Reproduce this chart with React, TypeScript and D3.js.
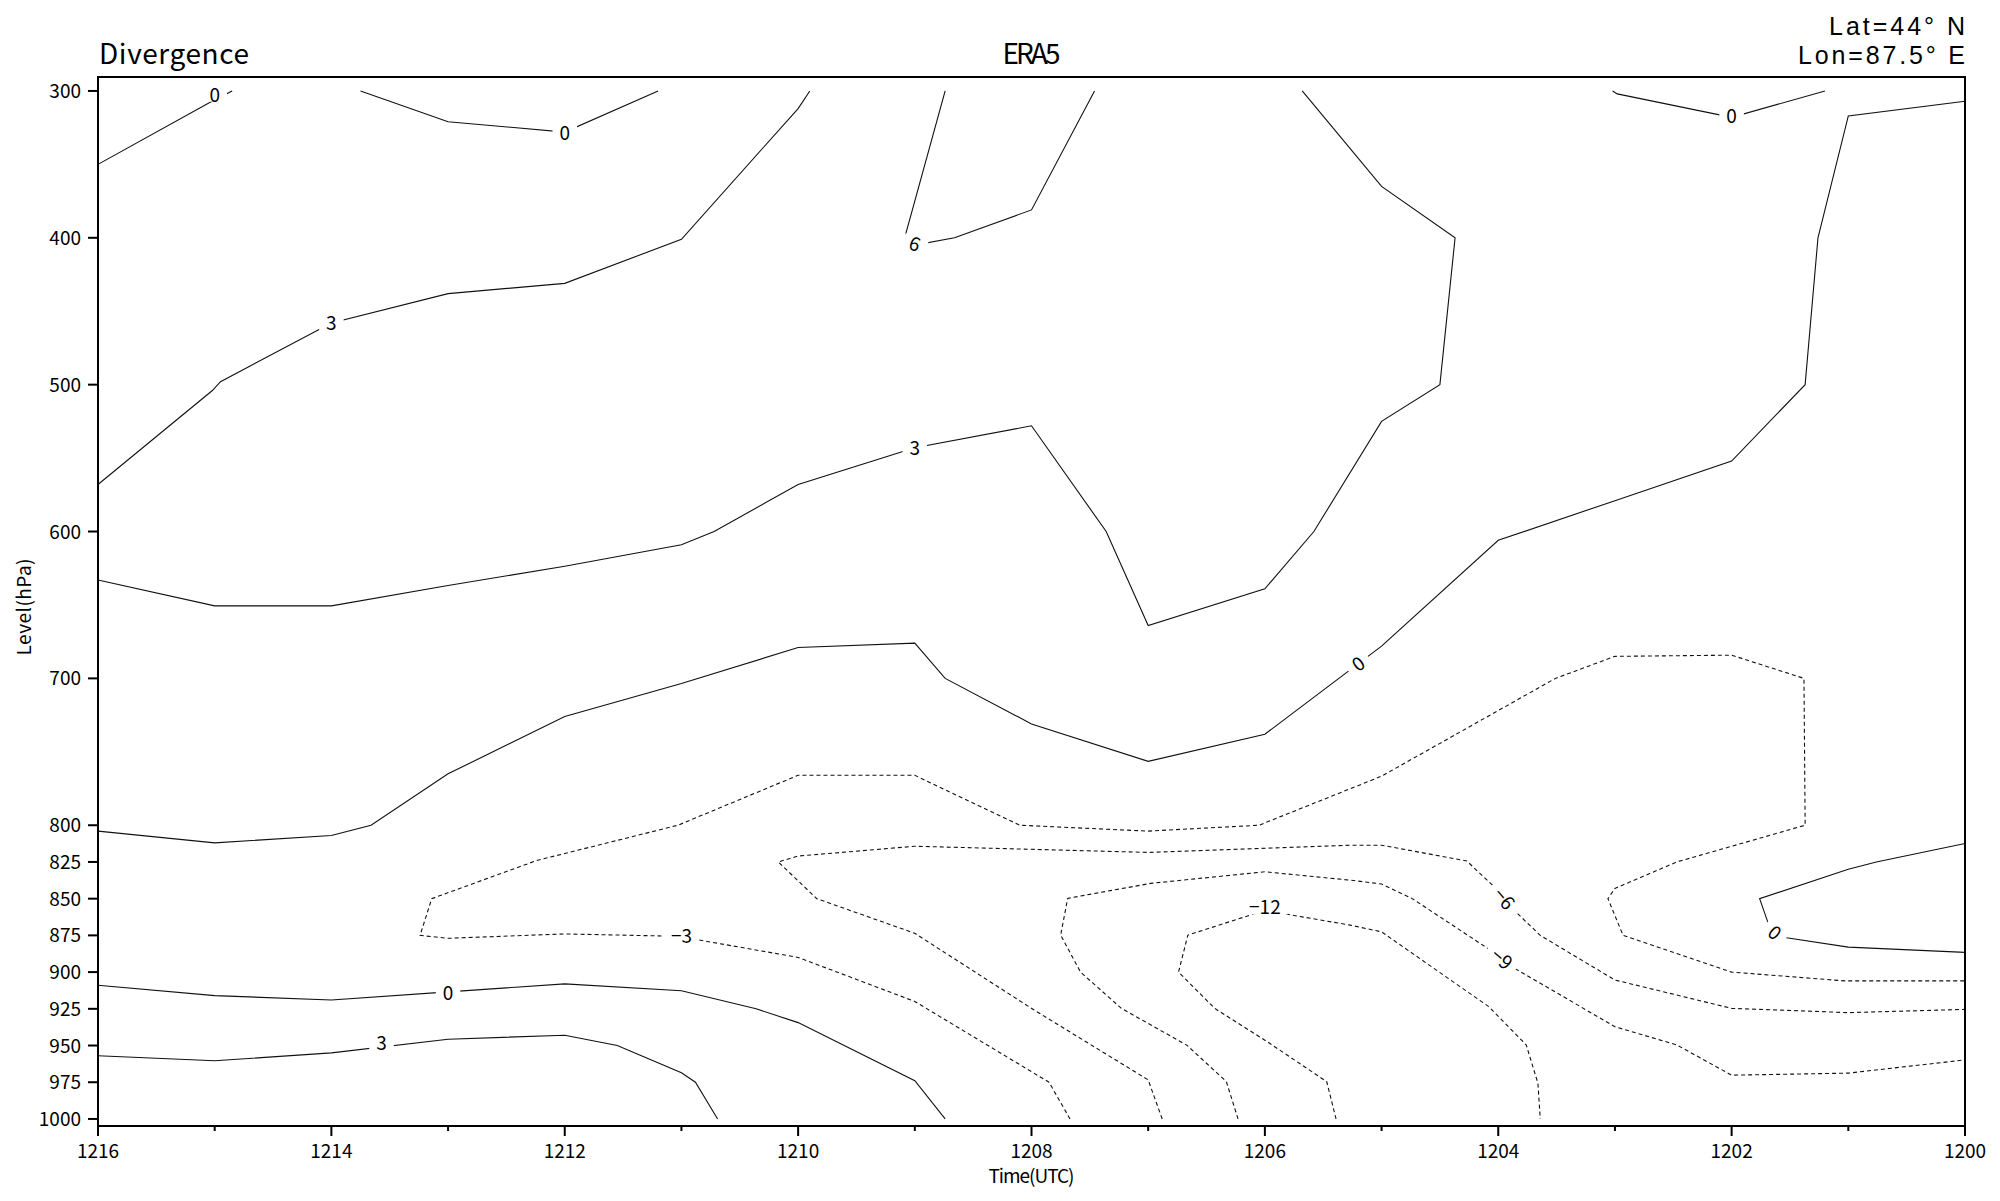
import React from "react";
import * as d3 from "d3";

type Pt = [number, number];

// ---- axis ticks ----
const timeMajor: number[] = [1216, 1214, 1212, 1210, 1208, 1206, 1204, 1202, 1200];
const timeMinor: number[] = [1215, 1213, 1211, 1209, 1207, 1205, 1203, 1201];
const levelTicks: number[] = [300, 400, 500, 600, 700, 800, 825, 850, 875, 900, 925, 950, 975, 1000];

// ---- contour lines as [time, level(hPa)] ----
const c0TopLeftA: Pt[] = [[1216, 350], [1215, 306], [1214.85, 300]];
const c0TopLeftB: Pt[] = [[1213.75, 300], [1213, 321], [1212, 328], [1211.2, 300]];
const c3Upper: Pt[] = [[1216, 568], [1215.02, 504], [1214.95, 498], [1214, 458], [1213, 438], [1212, 431], [1211, 401], [1210, 312], [1209.9, 300]];
const c6Top: Pt[] = [[1208.74, 300], [1209.08, 398], [1209.0, 405], [1208.66, 400], [1208, 381], [1207.46, 300]];
const c3Mid: Pt[] = [[1216, 633], [1215, 650.6], [1214, 650.6], [1213, 636.7], [1212, 623.7], [1211, 609], [1210.72, 600], [1210, 568], [1209, 543], [1208, 528], [1207.36, 600], [1207, 664], [1206, 639], [1205.58, 600], [1205, 525], [1204.5, 500], [1204.37, 400], [1205, 365], [1205.68, 300]];
const c0Main: Pt[] = [[1200, 307], [1201, 317], [1201.26, 400], [1201.37, 500], [1202, 552], [1203, 579], [1204, 606], [1205, 678], [1206, 738], [1207, 756.5], [1208, 731], [1208.74, 700], [1209, 676], [1210, 679], [1211, 703.5], [1212, 726], [1213, 765], [1213.66, 800], [1214, 807], [1215, 812], [1216, 804]];
const c0TopRight: Pt[] = [[1203.02, 300], [1202.98, 302], [1202, 318], [1201.2, 300]];
const c0Low: Pt[] = [[1216, 909], [1215, 916], [1214, 919], [1213, 913.5], [1212, 908], [1211, 912.7], [1210.36, 925], [1210, 934.4], [1209, 974], [1208.74, 1000]];
const c3Low: Pt[] = [[1216, 957], [1215, 960.4], [1214, 955], [1213, 945.7], [1212, 943], [1211.55, 950], [1211, 968.5], [1210.88, 975], [1210.69, 1000]];
const c0LowRight: Pt[] = [[1200, 812.4], [1200.76, 825], [1201, 830], [1201.76, 850], [1201.65, 875], [1201.53, 876.6], [1201, 883], [1200, 886.6]];
const cm3: Pt[] = [[1207.67, 1000], [1207.85, 975], [1209, 920], [1210, 890], [1210.86, 878], [1211.17, 875.4], [1212, 874], [1213, 877], [1213.24, 875], [1213.14, 850], [1212.24, 824], [1211.03, 800], [1210, 766], [1209, 766], [1208.1, 800], [1207, 804], [1206.05, 800], [1205, 766.6], [1203.51, 700], [1203, 685], [1202, 684.2], [1201.38, 700], [1201.37, 800], [1202.47, 825], [1203, 843], [1203.06, 850], [1202.93, 875], [1202, 900], [1201.03, 906], [1200, 906]];
const cm6: Pt[] = [[1206.88, 1000], [1207, 973.4], [1207.98, 925.7], [1209, 873.6], [1209.84, 850], [1210.17, 825], [1210, 821], [1209, 814.3], [1207, 818.5], [1205.27, 813.6], [1205, 813.6], [1204.27, 824.3], [1204.05, 840.8], [1203.85, 859], [1203.64, 875], [1203, 905.4], [1202, 924.7], [1201, 927.6], [1200, 925.4]];
const cm9: Pt[] = [[1206.23, 1000], [1206.33, 974.6], [1206.67, 949.7], [1207.23, 924.7], [1207.58, 900], [1207.75, 874.8], [1207.69, 849.8], [1206.98, 839.6], [1206, 831.7], [1205.27, 837.4], [1205, 840], [1204.74, 849.8], [1204.09, 883.9], [1203.86, 897.4], [1203, 937.2], [1202.47, 949.6], [1202, 970.2], [1201, 968.8], [1200, 959.8]];
const cm12: Pt[] = [[1205.39, 1000], [1205.47, 974.6], [1205.98, 947.4], [1206.43, 924.7], [1206.74, 900], [1206.66, 874.8], [1206, 858], [1205.27, 868], [1205, 872.6], [1204.08, 923.6], [1203.76, 949.6], [1203.66, 975.7], [1203.64, 1000]];

const contourValues: number[] = [0, 0, 3, 6, 3, 0, 0, 0, 3, 0, -3, -6, -9, -12];
const contourPaths: Pt[][] = [c0TopLeftA, c0TopLeftB, c3Upper, c6Top, c3Mid, c0Main, c0TopRight, c0Low, c3Low, c0LowRight, cm3, cm6, cm9, cm12];

// ---- contour labels: text, time, level, angle ----
const labelTexts: string[] = ["0", "0", "3", "6", "3", "0", "0", "0", "3", "\u22123", "\u22126", "\u22129", "\u221212", "0"];
const labelTimes: number[] = [1215.0, 1212, 1214, 1209.0, 1209, 1205.2, 1202, 1213, 1213.57, 1211, 1203.95, 1203.97, 1206, 1201.63];
const labelLevels: number[] = [302.5, 328.5, 458, 404, 543, 690, 317, 914, 948, 875.4, 850, 891, 856, 873];
const labelAngles: number[] = [0, 0, 0, 20, 0, -37, 0, 0, 0, 0, 50, 40, 0, 40];

const FONT = "'Noto Sans CJK SC', 'Noto Sans', sans-serif";
const FONT_LATIN = "'Liberation Sans', Arial, sans-serif";

export default function App() {
  const W = 2000, H = 1201;
  const L = 98, R = 1965, T = 77, B = 1126;
  const x = d3.scaleLinear().domain([1216, 1200]).range([L, R]);
  const y = d3.scaleLinear().domain([290.5, 1004.8]).range([T, B]);
  const line = d3.line<Pt>().x((d) => x(d[0])).y((d) => y(d[1]));

  return (
    <svg width={W} height={H} style={{ position: "absolute", left: 0, top: 0, background: "#fff" }} fontFamily={FONT}>
      <rect x={0} y={0} width={W} height={H} fill="#fff" />
      {/* contours */}
      <g fill="none" stroke="#111" strokeWidth={1.1}>
        {contourPaths.map((pts, i) => (
          <path key={i} d={line(pts) || ""} strokeDasharray={contourValues[i] < 0 ? "4,3" : undefined} />
        ))}
      </g>
      {/* contour labels */}
      <g>
        {labelTexts.map((t, i) => {
          const w = t.length * 10.5 + 14;
          return (
            <g key={i} transform={`translate(${x(labelTimes[i])},${y(labelLevels[i])}) rotate(${labelAngles[i]})`}>
              <rect x={-w / 2} y={-7} width={w} height={14} fill="#fff" />
              <text textAnchor="middle" y={7} fontSize={19} fill="#000">{t}</text>
            </g>
          );
        })}
      </g>
      {/* frame */}
      <rect x={L} y={T} width={R - L} height={B - T} fill="none" stroke="#000" strokeWidth={2} />
      {/* y ticks */}
      <g>
        {levelTicks.map((p) => (
          <g key={p}>
            <line x1={L - 10} x2={L} y1={y(p)} y2={y(p)} stroke="#000" strokeWidth={2} />
            <text x={L - 17} y={y(p) + 7} textAnchor="end" fontSize={19} fill="#000">{p}</text>
          </g>
        ))}
      </g>
      {/* x ticks */}
      <g>
        {timeMajor.map((t) => (
          <g key={t}>
            <line x1={x(t)} x2={x(t)} y1={B} y2={B + 10} stroke="#000" strokeWidth={2} />
            <text x={x(t)} y={B + 32} textAnchor="middle" fontSize={19} fill="#000">{t}</text>
          </g>
        ))}
        {timeMinor.map((t) => (
          <line key={t} x1={x(t)} x2={x(t)} y1={B} y2={B + 5} stroke="#000" strokeWidth={2} />
        ))}
      </g>
      {/* titles */}
      <text x={99} y={64} fontSize={28} textLength={150} lengthAdjust="spacing" fill="#000">Divergence</text>
      <text x={(L + R) / 2} y={64} fontSize={28} textAnchor="middle" textLength={58} lengthAdjust="spacing" fill="#000">ERA5</text>
      <text x={R} y={35} fontSize={25} fontFamily={FONT_LATIN} textAnchor="end" textLength={136} lengthAdjust="spacing" fill="#000">Lat=44° N</text>
      <text x={R} y={64} fontSize={25} fontFamily={FONT_LATIN} textAnchor="end" textLength={167} lengthAdjust="spacing" fill="#000">Lon=87.5° E</text>
      <text x={(L + R) / 2} y={1183} fontSize={19} textAnchor="middle" textLength={86} lengthAdjust="spacing" fill="#000">Time(UTC)</text>
      <text transform={`translate(31,${(y(600) + y(700)) / 2 + 2}) rotate(-90)`} fontSize={19} textAnchor="middle" textLength={97} lengthAdjust="spacing" fill="#000">Level(hPa)</text>
    </svg>
  );
}
